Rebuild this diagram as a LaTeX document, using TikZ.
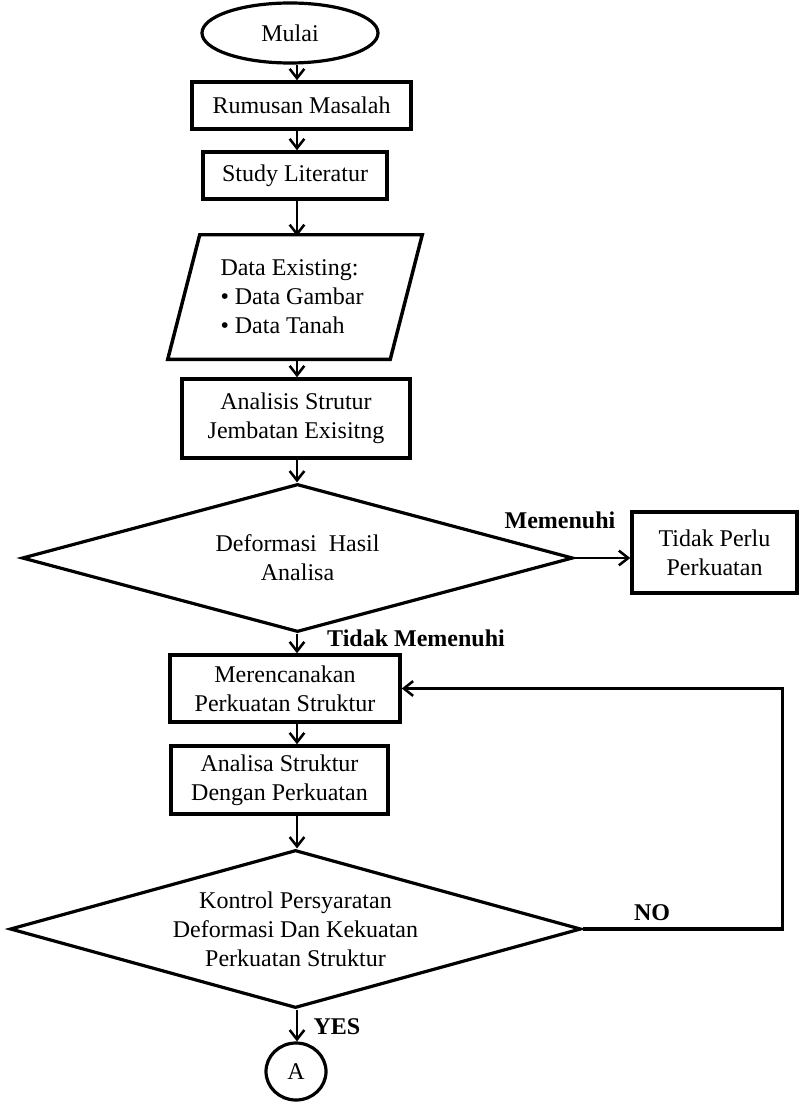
\documentclass[tikz,border=0pt]{standalone}
\usepackage{fontspec}
\setmainfont{Liberation Serif}
\usetikzlibrary{shapes.geometric,arrows.meta}
\begin{document}
\begin{tikzpicture}[x=0.75pt,y=-0.75pt,
  every node/.style={font=\fontsize{18}{21.75}\selectfont, align=center, inner sep=0pt},
  sz/.style 2 args={minimum width=#1*0.75pt, minimum height=#2*0.75pt},
  box/.style={draw, line width=2.6pt, rectangle},
  term/.style={draw, line width=2.4pt, ellipse},
  dec/.style={draw, line width=2.4pt, diamond},
  arr/.style={line width=1.9pt, -{Straight Barb[length=7pt,width=11pt,line width=1.9pt]}},
  lbl/.style={font=\fontsize{18}{21.75}\selectfont\bfseries}]
\useasboundingbox (0,0) rectangle (803,1102);
\coordinate (ax) at (297,0);
\node[term, sz={176}{60}] (start) at (290,33) {Mulai};
\node[box, sz={219}{47}] (rm) at (301.5,105.5) {Rumusan Masalah};
\node[box, sz={184}{47}] (sl) at (295,175.5) {Study Literatur};
\node[sz={222}{124}, align=left] (data) at (292,297) {Data Existing:\\ \textbullet\ Data Gambar\\ \textbullet\ Data Tanah};
\draw[line width=2.6pt, line join=miter] ([xshift=14.25pt]data.north west) -- ([xshift=14.25pt]data.north east)
  -- ([xshift=-9.75pt]data.south east) -- ([xshift=-9.75pt]data.south west) -- cycle;
\node[box, sz={228}{79}] (an) at (296,418.5) {Analisis Strutur\\Jembatan Exisitng};
\node[dec, aspect=3.72, sz={551}{148}] (d1) at (297.5,558) {Deformasi\ \ Hasil\\Analisa};
\node[box, sz={165}{81}] (tp) at (714.5,552.5) {Tidak Perlu\\Perkuatan};
\node[box, sz={230}{67}] (m) at (285,688.5) {Merencanakan\\Perkuatan Struktur};
\node[box, sz={217}{68}] (as) at (279.5,780) {Analisa Struktur\\Dengan Perkuatan};
\node[dec, aspect=3.61, sz={571}{158}] (d2) at (295.5,929) {Kontrol Persyaratan\\Deformasi Dan Kekuatan\\Perkuatan Struktur};
\node[term, sz={60}{57}] (A) at (296,1071.5) {A};
\node[lbl] (l1) at (560,520) {Memenuhi};
\node[lbl] (l2) at (416,638) {Tidak Memenuhi};
\node[lbl] (l3) at (652,913) {NO};
\node[lbl] (l4) at (337,1027) {YES};
\draw[arr] (start.south -| ax) -- (rm.north -| ax);
\draw[arr] (rm.south -| ax) -- (sl.north -| ax);
\draw[arr] (sl.south -| ax) -- ([yshift=-1pt]data.north -| ax);
\draw[arr] ([yshift=1pt]data.south -| ax) -- (an.north -| ax);
\draw[arr] (an.south -| ax) -- (d1.north -| ax);
\draw[arr] (d1.east) -- (d1.east -| tp.west);
\draw[arr] (d1.south -| ax) -- (m.north -| ax);
\draw[arr] (m.south -| ax) -- (as.north -| ax);
\draw[arr] (as.south -| ax) -- (d2.north -| ax);
\draw[arr] (d2.south -| ax) -- (A.north -| ax);
\draw[arr, line width=2.4pt] (d2.east) -- ++(200,0) |- (m.east);
\end{tikzpicture}
\end{document}
